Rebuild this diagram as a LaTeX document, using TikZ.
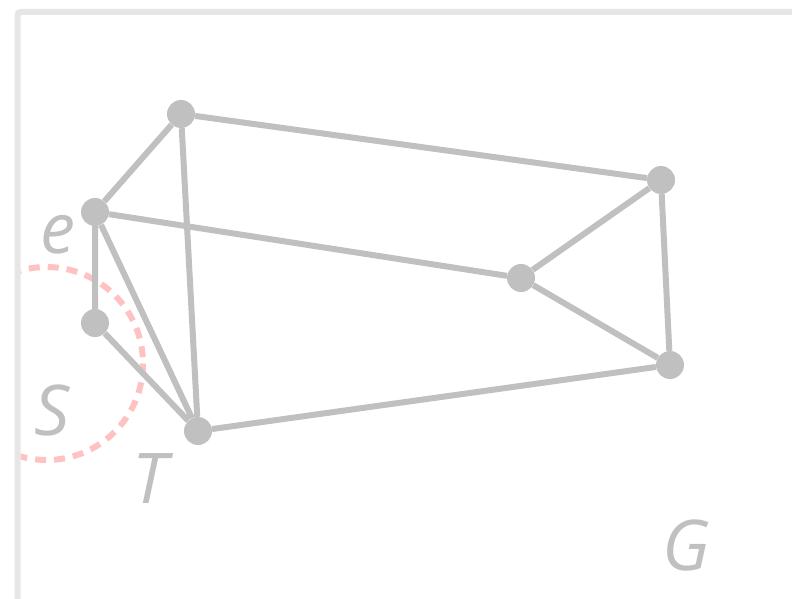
\documentclass[tikz,border=0pt]{standalone}
\usepackage{fontspec}
\setmainfont{Open Sans}
\definecolor{edgegray}{HTML}{C0C0C0}
\definecolor{framegray}{HTML}{E6E6E6}
\definecolor{setpink}{HTML}{FFC2C2}
\tikzset{
  vtx/.style={circle, fill=edgegray, inner sep=0pt, minimum size=28pt},
  edge/.style={draw=edgegray, line width=6pt},
  lbl/.style={text=edgegray, anchor=base, inner sep=0pt, font=\fontsize{70}{84}\selectfont\itshape},
}
\begin{document}
\begin{tikzpicture}[x=1pt,y=-1pt]
\useasboundingbox (0,0) rectangle (792,599);
\clip (0,0) rectangle (792,599);
\draw[framegray, line width=6pt, rounded corners=3pt] (17.5,12) rectangle (900,700);
\begin{scope}
\clip (20.5,15) rectangle (792,599);
\draw[setpink, line width=6pt, dash pattern=on 11pt off 8pt] (46.5,363.5) circle (96.5);
\end{scope}
\node[vtx] (a) at (181,114) {};
\node[vtx] (e) at (95,212) {};
\node[vtx] (b) at (95,323) {};
\node[vtx] (t) at (198,431) {};
\node[vtx] (c) at (521,278) {};
\node[vtx] (d) at (661,180) {};
\node[vtx] (g) at (670,365) {};
\path[edge] (a) -- (e) (a) -- (d) (a) -- (t)
  (e) -- (c) (e) -- (b) (e) -- (t)
  (b) -- (t) (t) -- (g)
  (c) -- (d) (c) -- (g) (d) -- (g);
\node[lbl] (le) at (58,253) {e};
\node[lbl] (ls) at (52,435) {S};
\node[lbl] (lt) at (150,503) {T};
\node[lbl] (lg) at (686,570) {G};
\end{tikzpicture}
\end{document}
